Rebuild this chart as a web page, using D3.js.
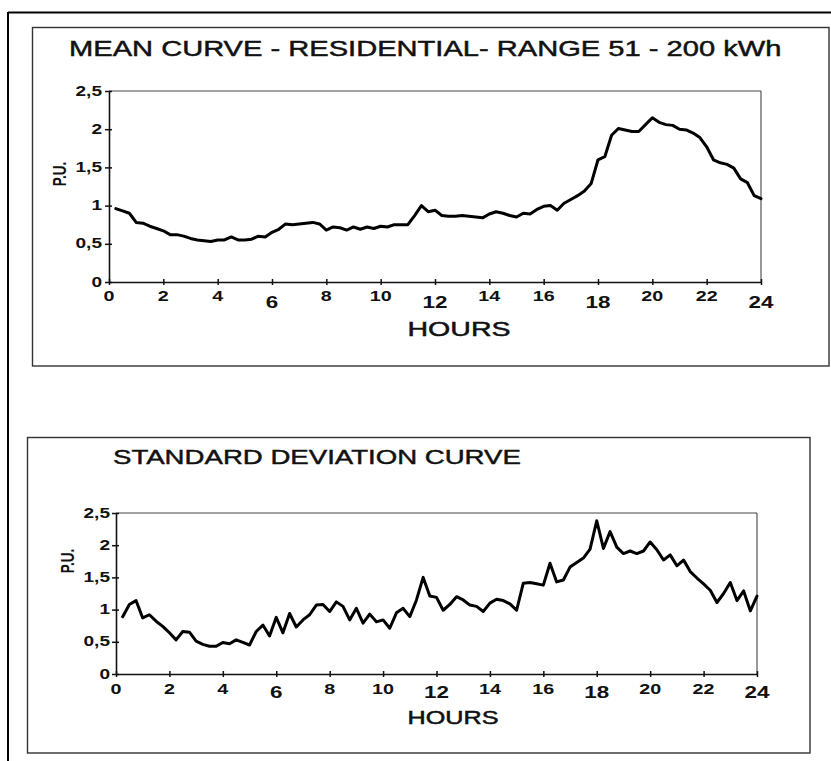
<!DOCTYPE html>
<html>
<head>
<meta charset="utf-8">
<script src="https://cdn.jsdelivr.net/npm/d3@7"></script>
<style>
  html, body { margin: 0; padding: 0; background: #fff; }
  svg { display: block; }
  text { font-family: "Liberation Sans", Arial, Helvetica, sans-serif; fill: #111; }
</style>
</head>
<body>
<svg id="chart" width="831" height="761"></svg>
<script>
// Quarter-hour sample times (h)
const hours = [
  0.25, 0.5, 0.75, 1, 1.25, 1.5, 1.75, 2, 2.25, 2.5, 2.75, 3,
  3.25, 3.5, 3.75, 4, 4.25, 4.5, 4.75, 5, 5.25, 5.5, 5.75, 6,
  6.25, 6.5, 6.75, 7, 7.25, 7.5, 7.75, 8, 8.25, 8.5, 8.75, 9,
  9.25, 9.5, 9.75, 10, 10.25, 10.5, 10.75, 11, 11.25, 11.5, 11.75, 12,
  12.25, 12.5, 12.75, 13, 13.25, 13.5, 13.75, 14, 14.25, 14.5, 14.75, 15,
  15.25, 15.5, 15.75, 16, 16.25, 16.5, 16.75, 17, 17.25, 17.5, 17.75, 18,
  18.25, 18.5, 18.75, 19, 19.25, 19.5, 19.75, 20, 20.25, 20.5, 20.75, 21,
  21.25, 21.5, 21.75, 22, 22.25, 22.5, 22.75, 23, 23.25, 23.5, 23.75, 24
];

// Mean load curve, residential, 51-200 kWh (p.u.)
const meanValues = [
  0.96, 0.93, 0.90, 0.78, 0.77, 0.73, 0.70, 0.67, 0.62, 0.62, 0.60, 0.57,
  0.55, 0.54, 0.53, 0.55, 0.55, 0.59, 0.55, 0.55, 0.56, 0.60, 0.59, 0.65,
  0.69, 0.76, 0.75, 0.76, 0.77, 0.78, 0.76, 0.68, 0.72, 0.71, 0.68, 0.72,
  0.69, 0.72, 0.70, 0.73, 0.72, 0.75, 0.75, 0.75, 0.87, 1.00, 0.92, 0.94,
  0.87, 0.86, 0.86, 0.87, 0.86, 0.85, 0.84, 0.89, 0.92, 0.90, 0.87, 0.85,
  0.90, 0.89, 0.95, 0.99, 1.00, 0.94, 1.03, 1.08, 1.13, 1.19, 1.29, 1.60,
  1.64, 1.92, 2.01, 1.99, 1.97, 1.97, 2.06, 2.15, 2.09, 2.06, 2.05, 2.00,
  1.99, 1.95, 1.89, 1.77, 1.60, 1.56, 1.54, 1.49, 1.35, 1.30, 1.13, 1.09
];

// Standard deviation curve (p.u.)
const stdValues = [
  0.89, 1.08, 1.14, 0.87, 0.92, 0.82, 0.74, 0.64, 0.53, 0.66, 0.65, 0.51,
  0.46, 0.43, 0.43, 0.49, 0.47, 0.53, 0.49, 0.45, 0.66, 0.76, 0.59, 0.88,
  0.64, 0.94, 0.73, 0.84, 0.92, 1.07, 1.08, 0.97, 1.12, 1.05, 0.84, 1.02,
  0.79, 0.93, 0.81, 0.84, 0.71, 0.95, 1.02, 0.89, 1.15, 1.50, 1.21, 1.19,
  0.99, 1.08, 1.20, 1.15, 1.07, 1.05, 0.97, 1.10, 1.16, 1.14, 1.09, 0.99,
  1.41, 1.42, 1.40, 1.38, 1.72, 1.43, 1.46, 1.66, 1.73, 1.80, 1.94, 2.38,
  1.95, 2.21, 1.97, 1.87, 1.91, 1.87, 1.91, 2.05, 1.93, 1.77, 1.85, 1.68,
  1.77, 1.59, 1.49, 1.40, 1.30, 1.11, 1.25, 1.42, 1.14, 1.29, 0.98, 1.21
];

const yTicks = [0, 0.5, 1, 1.5, 2, 2.5];
const yTickLabels = ["0", "0,5", "1", "1,5", "2", "2,5"];
const xTicks = [0, 2, 4, 6, 8, 10, 12, 14, 16, 18, 20, 22, 24];
const xTickLabels = ["0", "2", "4", "6", "8", "10", "12", "14", "16", "18", "20", "22", "24"];

const titles = ["MEAN CURVE - RESIDENTIAL- RANGE 51 - 200 kWh", "STANDARD DEVIATION CURVE"];
const xAxisTitle = "HOURS";
const yAxisTitle = "P.U.";

// Lettering in this sheet is drawn horizontally widened
const SX = 1.36;

const svg = d3.select("#chart");

// Page frame
svg.append("line").attr("x1", 8).attr("x2", 831).attr("y1", 12.5).attr("y2", 12.5)
  .attr("stroke", "#000").attr("stroke-width", 2);
svg.append("line").attr("x1", 8).attr("x2", 8).attr("y1", 12).attr("y2", 761)
  .attr("stroke", "#000").attr("stroke-width", 2);

function label(g, x, y, str, opt) {
  const o = Object.assign({ size: 14, weight: "normal", anchor: "middle", baseline: "central", rotate: 0, halo: 0 }, opt);
  const grp = g.append("g")
    .attr("transform", `translate(${x},${y}) scale(${SX},1)` + (o.rotate ? ` rotate(${o.rotate})` : ""));
  const t = grp.append("text")
    .attr("text-anchor", o.anchor)
    .attr("dominant-baseline", o.baseline)
    .attr("font-size", o.size)
    .attr("font-weight", o.weight)
    .text(str);
  if (o.halo) t.attr("stroke", "#111").attr("stroke-width", o.halo);
  return grp;
}

const panels = [
  {
    values: meanValues, title: titles[0],
    box: { x0: 32.5, y0: 27.5, x1: 829, y1: 366 },
    plot: { left: 109, right: 761, top: 91, bottom: 282 },
    titlePos: { x: 69, y: 56, size: 21.4 },
    hoursPos: { x: 459, y: 328, size: 21 },
    puPos: { x: 59, y: 174 },
    xLab: { small: 14, big: 20 }, yLabGap: 7
  },
  {
    values: stdValues, title: titles[1],
    box: { x0: 27.5, y0: 437.5, x1: 810, y1: 753 },
    plot: { left: 116, right: 757, top: 513, bottom: 674 },
    titlePos: { x: 113, y: 464, size: 20.3 },
    hoursPos: { x: 453, y: 718, size: 18.5 },
    puPos: { x: 67, y: 561 },
    xLab: { small: 15, big: 18 }, yLabGap: 6
  }
];

panels.forEach(p => {
  const g = svg.append("g");

  // panel border
  g.append("rect")
    .attr("x", p.box.x0).attr("y", p.box.y0)
    .attr("width", p.box.x1 - p.box.x0).attr("height", p.box.y1 - p.box.y0)
    .attr("fill", "none").attr("stroke", "#333").attr("stroke-width", 1.4);

  label(g, p.titlePos.x, p.titlePos.y, p.title,
    { size: p.titlePos.size, anchor: "start", baseline: "alphabetic", halo: 0.45 });

  const x = d3.scaleLinear().domain([0, 24]).range([p.plot.left, p.plot.right]);
  const y = d3.scaleLinear().domain([0, 2.5]).range([p.plot.bottom, p.plot.top]);

  // top and right frame of the plot area
  g.append("line").attr("x1", x(0)).attr("x2", x(24)).attr("y1", y(2.5)).attr("y2", y(2.5))
    .attr("stroke", "#444").attr("stroke-width", 1.1);
  g.append("line").attr("x1", x(24)).attr("x2", x(24)).attr("y1", y(2.5)).attr("y2", y(0))
    .attr("stroke", "#444").attr("stroke-width", 1.1);

  // axes: ticks cross the axis line
  const xAxis = g.append("g").attr("transform", `translate(0,${y(0)})`)
    .call(d3.axisBottom(x).tickValues(xTicks).tickSizeInner(3).tickSizeOuter(0).tickFormat(""));
  xAxis.selectAll(".tick line").attr("y1", -3);
  const yAxis = g.append("g").attr("transform", `translate(${x(0)},0)`)
    .call(d3.axisLeft(y).tickValues(yTicks).tickSizeInner(4).tickSizeOuter(0).tickFormat(""));
  yAxis.selectAll(".tick line").attr("x1", 3);
  [xAxis, yAxis].forEach(a => {
    a.select(".domain").attr("stroke", "#111").attr("stroke-width", 1.6);
    a.selectAll(".tick line").attr("stroke", "#111").attr("stroke-width", 1.5);
  });

  // tick labels
  xTicks.forEach((t, i) => {
    const big = t % 6 === 0 && t > 0;
    label(g, x(t), y(0) + (big ? p.xLab.big : p.xLab.small), xTickLabels[i],
      { size: big ? 16.5 : 14.5, weight: "bold" });
  });
  yTicks.forEach((t, i) => {
    label(g, x(0) - p.yLabGap, y(t), yTickLabels[i],
      { size: 14, weight: "bold", anchor: "end" });
  });

  // axis titles
  label(g, p.hoursPos.x, p.hoursPos.y, xAxisTitle, { size: p.hoursPos.size, halo: 0.5 });
  label(g, p.puPos.x, p.puPos.y, yAxisTitle, { size: 13.5, weight: "bold", rotate: -90 });

  // curve
  const line = d3.line().x((d, i) => x(hours[i])).y(d => y(d));
  g.append("path").datum(p.values)
    .attr("d", line)
    .attr("fill", "none").attr("stroke", "#000")
    .attr("stroke-width", 3).attr("stroke-linejoin", "round").attr("stroke-linecap", "round");
});
</script>
</body>
</html>
